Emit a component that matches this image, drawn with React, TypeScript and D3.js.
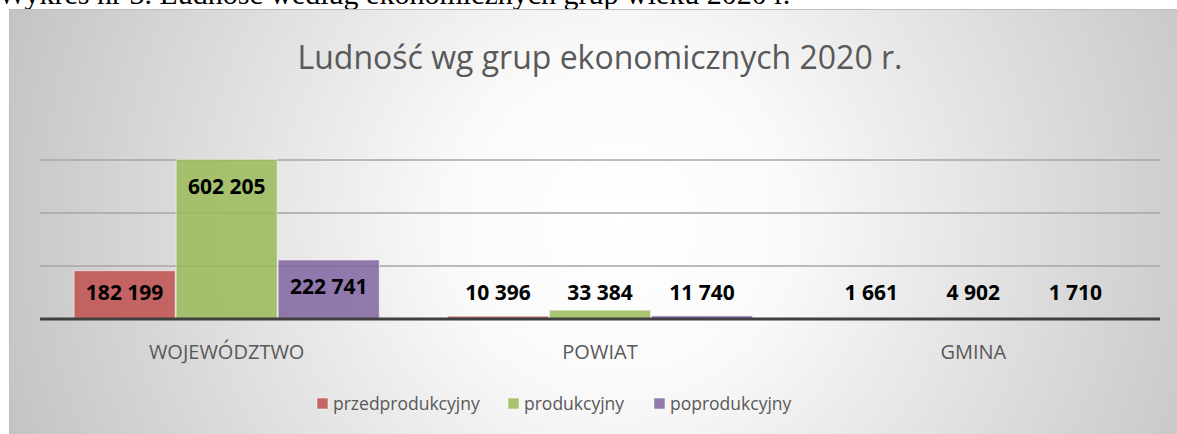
import React from 'react';
import * as d3 from 'd3';

// chart data
const categories = ['WOJEWÓDZTWO', 'POWIAT', 'GMINA'];
const seriesNames = ['przedprodukcyjny', 'produkcyjny', 'poprodukcyjny'];
const przedprodukcyjny = [182199, 10396, 1661];
const produkcyjny = [602205, 33384, 4902];
const poprodukcyjny = [222741, 11740, 1710];
const gridTicks = [200000, 400000, 600000];
const yMax = 600000;

const seriesValues = [przedprodukcyjny, produkcyjny, poprodukcyjny];
const colors = ['#C0504D', '#9BBB59', '#8064A2'];

const W = 1177;
const H = 434;
const plot = { left: 40, right: 1160, top: 160, bottom: 319 };

const plFormat = d3.formatLocale({
  decimal: ',',
  thousands: ' ',
  grouping: [3],
  currency: ['', ' zł'],
}).format(',d');

const FONT = "'Open Sans', 'Noto Sans', sans-serif";

export default function App() {
  const x0 = d3.scaleBand<string>()
    .domain(categories)
    .range([plot.left, plot.right])
    .paddingInner(0.18)
    .paddingOuter(0.09);

  const x1 = d3.scaleBand<string>()
    .domain(seriesNames)
    .range([0, x0.bandwidth()]);

  const y = d3.scaleLinear()
    .domain([0, yMax])
    .range([plot.bottom, plot.top]);

  // legend positions (square x)
  const legendX = [317, 508, 654];

  return (
    <svg width={W} height={H} style={{ position: 'absolute', left: 0, top: 0 }}>
      <defs>
        <radialGradient id="bg" gradientUnits="userSpaceOnUse" cx={620} cy={220} r={660}>
          <stop offset="0" stopColor="#ffffff" />
          <stop offset="0.25" stopColor="#fafafa" />
          <stop offset="1" stopColor="#c2c2c2" />
        </radialGradient>
      </defs>
      <rect x={0} y={0} width={W} height={H} fill="#ffffff" />
      <text x={-2} y={4} fontFamily="'Liberation Serif', 'DejaVu Serif', serif" fontSize={30} fill="#000">
        Wykres nr 3. Ludność według ekonomicznych grup wieku 2020 r.
      </text>
      <rect x={9.5} y={9.5} width={W} height={H} fill="url(#bg)" stroke="#bdbdbd" strokeWidth={1} />

      <text x={600} y={69} textAnchor="middle" fontFamily={FONT} fontSize={32} fill="#595959">
        Ludność wg grup ekonomicznych 2020 r.
      </text>

      {gridTicks.map((t) => (
        <line key={t} x1={plot.left} x2={plot.right} y1={y(t)} y2={y(t)} stroke="#a6a6a6" strokeWidth={1.5} />
      ))}

      {categories.map((cat, ci) => (
        <g key={cat} transform={`translate(${x0(cat)},0)`}>
          {seriesNames.map((s, si) => {
            const v = seriesValues[si][ci];
            const top = y(v);
            return (
              <rect key={s} x={x1(s)! + 0.5} y={top} width={x1.bandwidth() - 1} height={y(0) - top}
                fill={colors[si]} fillOpacity={0.85} stroke="#ffffff" strokeOpacity={0.5} strokeWidth={1} />
            );
          })}
        </g>
      ))}

      <line x1={plot.left} x2={plot.right} y1={y(0)} y2={y(0)} stroke="#404040" strokeWidth={3} />

      {categories.map((cat, ci) => (
        <g key={cat + 'l'} transform={`translate(${x0(cat)},0)`}>
          {seriesNames.map((s, si) => {
            const v = seriesValues[si][ci];
            const ly = Math.min(y(v) + 27, y(0) - 26);
            return (
              <text key={s} x={x1(s)! + x1.bandwidth() / 2} y={ly} dy="0.35em" textAnchor="middle"
                fontFamily={FONT} fontWeight={700} fontSize={21} fill="#000">
                {plFormat(v)}
              </text>
            );
          })}
          <text x={x0.bandwidth() / 2} y={359} textAnchor="middle" fontFamily={FONT} fontSize={20} fill="#595959">
            {cat}
          </text>
        </g>
      ))}

      {seriesNames.map((s, si) => (
        <g key={s} transform={`translate(${legendX[si]},0)`}>
          <rect x={0} y={398} width={11} height={11} fill={colors[si]} fillOpacity={0.85} stroke="#ffffff" strokeOpacity={0.5} />
          <text x={16} y={410} fontFamily={FONT} fontSize={17.5} fill="#595959">{s}</text>
        </g>
      ))}
    </svg>
  );
}
